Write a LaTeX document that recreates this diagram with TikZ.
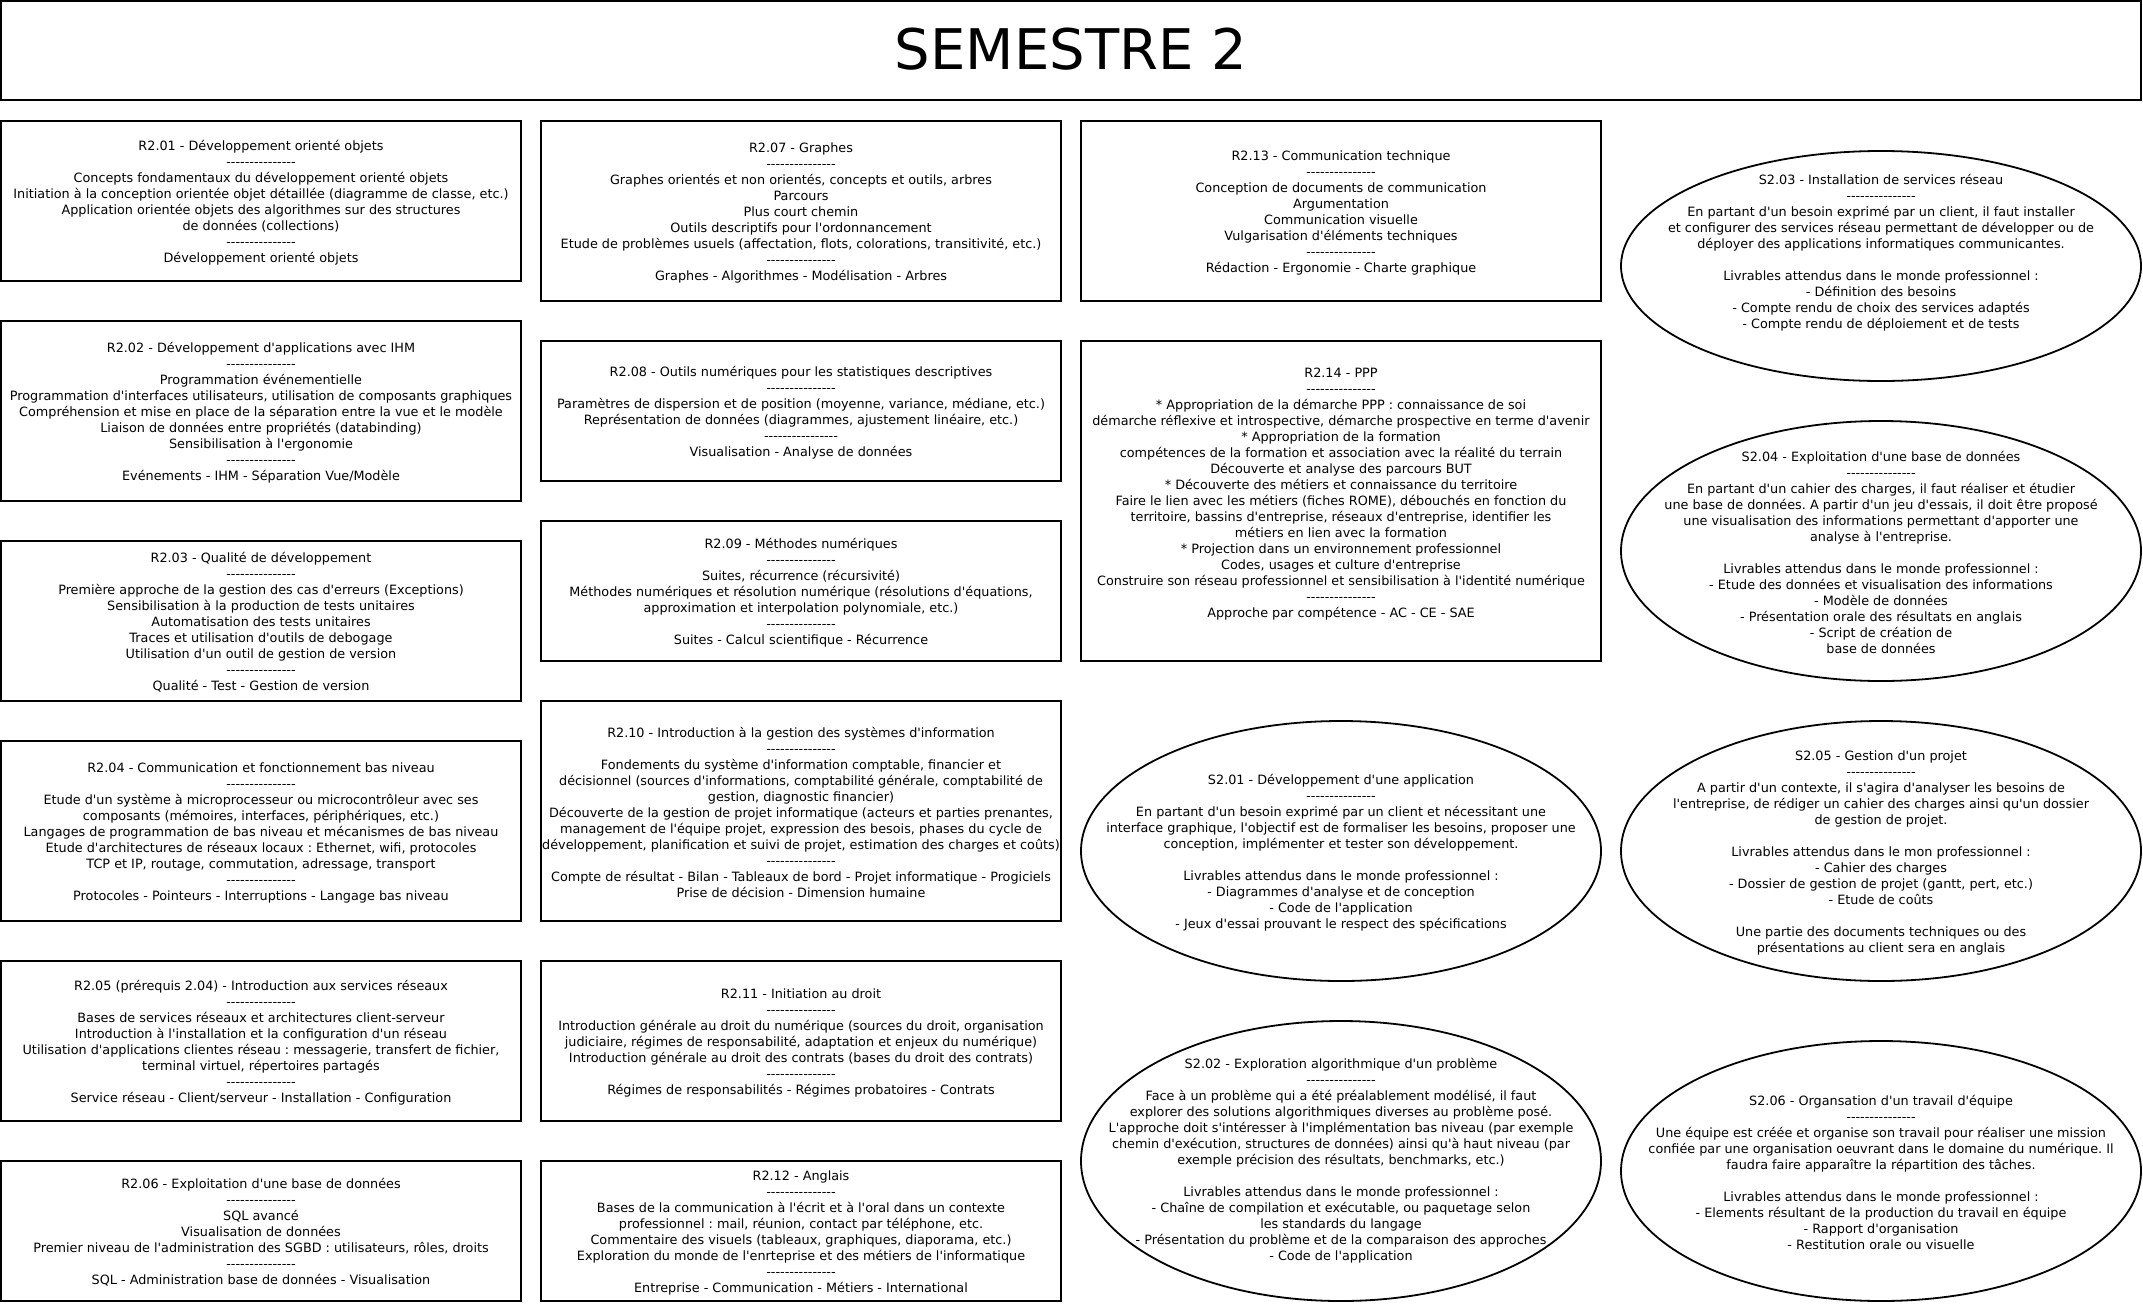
\documentclass[tikz,border=0pt]{standalone}
\usepackage{fontspec}
\setmonofont{DejaVu Sans}
\usetikzlibrary{shapes.geometric}
\tikzset{
  rbox/.style={draw, line width=2pt, minimum width=520pt, inner sep=0pt},
  ebox/.style={draw, ellipse, line width=1.8pt, minimum width=520pt, inner sep=0pt},
  txt/.style={font=\ttfamily\fontsize{12.8pt}{16pt}\selectfont, align=center, inner sep=0pt, yshift=-1.5pt},
  ttl/.style={font=\ttfamily\fontsize{56pt}{60pt}\selectfont, inner sep=0pt}
}
\newcommand\sepl{---------------}
\newcommand\sepll{----------------}
\newcommand\blank{\mbox{}}
\begin{document}
\begin{tikzpicture}[x=1pt,y=-1pt]
\useasboundingbox (0,0) rectangle (2143,1304);
% title
\node[draw, line width=2pt, minimum width=2140pt, minimum height=99pt, inner sep=0pt] (title) at (1071,50.5) {};
\node[ttl] (titlet) at (1071,49) {SEMESTRE 2};

% column 1
\node[rbox, minimum height=160pt] (r201) at (261,201) {};
\node[txt] (r201t) at (r201.center) {R2.01 - Développement orienté objets\\\sepl\\Concepts fondamentaux du développement orienté objets\\Initiation à la conception orientée objet détaillée (diagramme de classe, etc.)\\Application orientée objets des algorithmes sur des structures\\de données (collections)\\\sepl\\Développement orienté objets};

\node[rbox, minimum height=180pt] (r202) at (261,411) {};
\node[txt] (r202t) at (r202.center) {R2.02 - Développement d'applications avec IHM\\\sepl\\Programmation événementielle\\Programmation d'interfaces utilisateurs, utilisation de composants graphiques\\Compréhension et mise en place de la séparation entre la vue et le modèle\\Liaison de données entre propriétés (databinding)\\Sensibilisation à l'ergonomie\\\sepl\\Evénements - IHM - Séparation Vue/Modèle};

\node[rbox, minimum height=160pt] (r203) at (261,621) {};
\node[txt] (r203t) at (r203.center) {R2.03 - Qualité de développement\\\sepl\\Première approche de la gestion des cas d'erreurs (Exceptions)\\Sensibilisation à la production de tests unitaires\\Automatisation des tests unitaires\\Traces et utilisation d'outils de debogage\\Utilisation d'un outil de gestion de version\\\sepl\\Qualité - Test - Gestion de version};

\node[rbox, minimum height=180pt] (r204) at (261,831) {};
\node[txt] (r204t) at (r204.center) {R2.04 - Communication et fonctionnement bas niveau\\\sepl\\Etude d'un système à microprocesseur ou microcontrôleur avec ses\\composants (mémoires, interfaces, périphériques, etc.)\\Langages de programmation de bas niveau et mécanismes de bas niveau\\Etude d'architectures de réseaux locaux : Ethernet, wifi, protocoles\\TCP et IP, routage, commutation, adressage, transport\\\sepl\\Protocoles - Pointeurs - Interruptions - Langage bas niveau};

\node[rbox, minimum height=160pt] (r205) at (261,1041) {};
\node[txt] (r205t) at (r205.center) {R2.05 (prérequis 2.04) - Introduction aux services réseaux\\\sepl\\Bases de services réseaux et architectures client-serveur\\Introduction à l'installation et la configuration d'un réseau\\Utilisation d'applications clientes réseau : messagerie, transfert de fichier,\\terminal virtuel, répertoires partagés\\\sepl\\Service réseau - Client/serveur - Installation - Configuration};

\node[rbox, minimum height=140pt] (r206) at (261,1231) {};
\node[txt] (r206t) at (r206.center) {R2.06 - Exploitation d'une base de données\\\sepl\\SQL avancé\\Visualisation de données\\Premier niveau de l'administration des SGBD : utilisateurs, rôles, droits\\\sepl\\SQL - Administration base de données - Visualisation};

% column 2
\node[rbox, minimum height=180pt] (r207) at (801,211) {};
\node[txt] (r207t) at (r207.center) {R2.07 - Graphes\\\sepl\\Graphes orientés et non orientés, concepts et outils, arbres\\Parcours\\Plus court chemin\\Outils descriptifs pour l'ordonnancement\\Etude de problèmes usuels (affectation, flots, colorations, transitivité, etc.)\\\sepl\\Graphes - Algorithmes - Modélisation - Arbres};

\node[rbox, minimum height=140pt] (r208) at (801,411) {};
\node[txt] (r208t) at (r208.center) {R2.08 - Outils numériques pour les statistiques descriptives\\\sepl\\Paramètres de dispersion et de position (moyenne, variance, médiane, etc.)\\Représentation de données (diagrammes, ajustement linéaire, etc.)\\\sepll\\Visualisation - Analyse de données};

\node[rbox, minimum height=140pt] (r209) at (801,591) {};
\node[txt] (r209t) at (r209.center) {R2.09 - Méthodes numériques\\\sepl\\Suites, récurrence (récursivité)\\Méthodes numériques et résolution numérique (résolutions d'équations,\\approximation et interpolation polynomiale, etc.)\\\sepl\\Suites - Calcul scientifique - Récurrence};

\node[rbox, minimum height=220pt] (r210) at (801,811) {};
\node[txt] (r210t) at (r210.center) {R2.10 - Introduction à la gestion des systèmes d'information\\\sepl\\Fondements du système d'information comptable, financier et\\décisionnel (sources d'informations, comptabilité générale, comptabilité de\\gestion, diagnostic financier)\\Découverte de la gestion de projet informatique (acteurs et parties prenantes,\\management de l'équipe projet, expression des besois, phases du cycle de\\développement, planification et suivi de projet, estimation des charges et coûts)\\\sepl\\Compte de résultat - Bilan - Tableaux de bord - Projet informatique - Progiciels\\Prise de décision - Dimension humaine};

\node[rbox, minimum height=160pt] (r211) at (801,1041) {};
\node[txt] (r211t) at (r211.center) {R2.11 - Initiation au droit\\\sepl\\Introduction générale au droit du numérique (sources du droit, organisation\\judiciaire, régimes de responsabilité, adaptation et enjeux du numérique)\\Introduction générale au droit des contrats (bases du droit des contrats)\\\sepl\\Régimes de responsabilités - Régimes probatoires - Contrats};

\node[rbox, minimum height=140pt] (r212) at (801,1231) {};
\node[txt] (r212t) at (r212.center) {R2.12 - Anglais\\\sepl\\Bases de la communication à l'écrit et à l'oral dans un contexte\\professionnel : mail, réunion, contact par téléphone, etc.\\Commentaire des visuels (tableaux, graphiques, diaporama, etc.)\\Exploration du monde de l'enrteprise et des métiers de l'informatique\\\sepl\\Entreprise - Communication - Métiers - International};

% column 3
\node[rbox, minimum height=180pt] (r213) at (1341,211) {};
\node[txt] (r213t) at (r213.center) {R2.13 - Communication technique\\\sepl\\Conception de documents de communication\\Argumentation\\Communication visuelle\\Vulgarisation d'éléments techniques\\\sepl\\Rédaction - Ergonomie - Charte graphique};

\node[rbox, minimum height=320pt] (r214) at (1341,501) {};
\node[txt] (r214t) at (1341,493) {R2.14 - PPP\\\sepl\\{}* Appropriation de la démarche PPP : connaissance de soi\\démarche réflexive et introspective, démarche prospective en terme d'avenir\\{}* Appropriation de la formation\\compétences de la formation et association avec la réalité du terrain\\Découverte et analyse des parcours BUT\\{}* Découverte des métiers et connaissance du territoire\\Faire le lien avec les métiers (fiches ROME), débouchés en fonction du\\territoire, bassins d'entreprise, réseaux d'entreprise, identifier les\\métiers en lien avec la formation\\{}* Projection dans un environnement professionnel\\Codes, usages et culture d'entreprise\\Construire son réseau professionnel et sensibilisation à l'identité numérique\\\sepl\\Approche par compétence - AC - CE - SAE};

\node[ebox, minimum height=260pt] (s201) at (1341,851) {};
\node[txt] (s201t) at (s201.center) {S2.01 - Développement d'une application\\\sepl\\En partant d'un besoin exprimé par un client et nécessitant une\\interface graphique, l'objectif est de formaliser les besoins, proposer une\\conception, implémenter et tester son développement.\\\blank\\Livrables attendus dans le monde professionnel :\\- Diagrammes d'analyse et de conception\\- Code de l'application\\- Jeux d'essai prouvant le respect des spécifications};

\node[ebox, minimum height=280pt] (s202) at (1341,1161) {};
\node[txt] (s202t) at (1341,1159) {S2.02 - Exploration algorithmique d'un problème\\\sepl\\Face à un problème qui a été préalablement modélisé, il faut\\explorer des solutions algorithmiques diverses au problème posé.\\L'approche doit s'intéresser à l'implémentation bas niveau (par exemple\\chemin d'exécution, structures de données) ainsi qu'à haut niveau (par\\exemple précision des résultats, benchmarks, etc.)\\\blank\\Livrables attendus dans le monde professionnel :\\- Chaîne de compilation et exécutable, ou paquetage selon\\les standards du langage\\- Présentation du problème et de la comparaison des approches\\- Code de l'application};

% column 4
\node[ebox, minimum height=230pt] (s203) at (1881,266) {};
\node[txt] (s203t) at (1881,251) {S2.03 - Installation de services réseau\\\sepl\\En partant d'un besoin exprimé par un client, il faut installer\\et configurer des services réseau permettant de développer ou de\\déployer des applications informatiques communicantes.\\\blank\\Livrables attendus dans le monde professionnel :\\- Définition des besoins\\- Compte rendu de choix des services adaptés\\- Compte rendu de déploiement et de tests};

\node[ebox, minimum height=260pt] (s204) at (1881,551) {};
\node[txt] (s204t) at (s204.center) {S2.04 - Exploitation d'une base de données\\\sepl\\En partant d'un cahier des charges, il faut réaliser et étudier\\une base de données. A partir d'un jeu d'essais, il doit être proposé\\une visualisation des informations permettant d'apporter une\\analyse à l'entreprise.\\\blank\\Livrables attendus dans le monde professionnel :\\- Etude des données et visualisation des informations\\- Modèle de données\\- Présentation orale des résultats en anglais\\- Script de création de\\base de données};

\node[ebox, minimum height=260pt] (s205) at (1881,851) {};
\node[txt] (s205t) at (s205.center) {S2.05 - Gestion d'un projet\\\sepl\\A partir d'un contexte, il s'agira d'analyser les besoins de\\l'entreprise, de rédiger un cahier des charges ainsi qu'un dossier\\de gestion de projet.\\\blank\\Livrables attendus dans le mon professionnel :\\- Cahier des charges\\- Dossier de gestion de projet (gantt, pert, etc.)\\- Etude de coûts\\\blank\\Une partie des documents techniques ou des\\présentations au client sera en anglais};

\node[ebox, minimum height=260pt] (s206) at (1881,1171) {};
\node[txt] (s206t) at (s206.center) {S2.06 - Organsation d'un travail d'équipe\\\sepl\\Une équipe est créée et organise son travail pour réaliser une mission\\confiée par une organisation oeuvrant dans le domaine du numérique. Il\\faudra faire apparaître la répartition des tâches.\\\blank\\Livrables attendus dans le monde professionnel :\\- Elements résultant de la production du travail en équipe\\- Rapport d'organisation\\- Restitution orale ou visuelle};
\end{tikzpicture}
\end{document}
